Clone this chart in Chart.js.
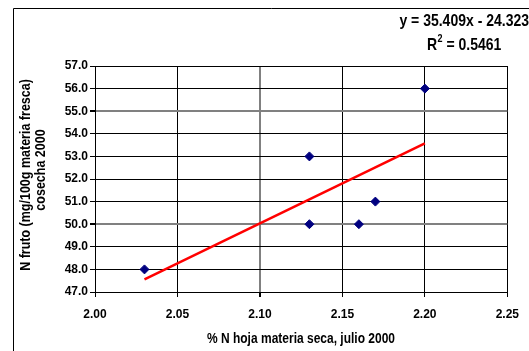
<!DOCTYPE html>
<html>
<head>
<meta charset="utf-8">
<script src="https://cdn.jsdelivr.net/npm/chart.js@4.4.0/dist/chart.umd.min.js"></script>
<style>
  body { margin: 0; background: #fff; }
  canvas { display: block; }
</style>
</head>
<body>
<canvas id="grafico" width="529" height="351"></canvas>
<script>
// datos
var nHoja = [2.03, 2.13, 2.13, 2.16, 2.17, 2.20]
var nFruto = [48.0, 53.0, 50.0, 50.0, 51.0, 56.0]
// linea de tendencia (extremos del rango de x)
var tendX = [2.03, 2.20]
var tendY = [47.56, 53.58]
var xTicks = [2.00, 2.05, 2.10, 2.15, 2.20, 2.25]
var yTicks = [47, 48, 49, 50, 51, 52, 53, 54, 55, 56, 57]

var ecuacion = 'y = 35.409x - 24.323'
var r2 = '0.5461'
var tituloY = ['N fruto (mg/100g materia fresca)', 'cosecha 2000']
var tituloX = '% N hoja materia seca, julio 2000'

var fuente = '"Liberation Sans", Arial, sans-serif'

var puntos = nHoja.map(function (x, i) { return { x: x, y: nFruto[i] } })
var linea = tendX.map(function (x, i) { return { x: x, y: tendY[i] } })

function gris(v, marcas) {
    return marcas.indexOf(v) >= 0
}

// texto estirado en vertical (como el original)
function texto(c, t, x, y, alin, tam, rot) {
    c.save()
    c.translate(x, y)
    if (rot) c.rotate(-Math.PI / 2)
    c.scale(1, 1.2)
    c.font = 'bold ' + tam + 'px ' + fuente
    c.textAlign = alin
    c.textBaseline = 'alphabetic'
    c.fillText(t, 0, 0)
    c.restore()
}

// textos extra y marco exterior
var textos = {
    id: 'textos',
    afterDraw: function (chart) {
        var c = chart.ctx
        c.save()
        // marco
        c.strokeStyle = '#000'
        c.lineWidth = 1
        c.beginPath()
        c.moveTo(13.5, 351)
        c.lineTo(13.5, 8.5)
        c.lineTo(529, 8.5)
        c.stroke()
        c.fillStyle = '#000'

        texto(c, ecuacion, 529, 26, 'right', 14)

        // R2
        c.font = 'bold 14px ' + fuente
        var x0 = 427
        texto(c, 'R', x0, 50, 'left', 14)
        x0 += c.measureText('R').width
        texto(c, '2', x0 + 0.5, 42, 'left', 9)
        c.font = 'bold 9px ' + fuente
        x0 += c.measureText('2').width + 0.5
        texto(c, ' = ' + r2, x0, 50, 'left', 14)

        // titulos de ejes
        texto(c, tituloY[0], 30, 175, 'center', 12.5, true)
        texto(c, tituloY[1], 44.5, 170, 'center', 12.5, true)
        texto(c, tituloX, 301, 343, 'center', 12)
        c.restore()
    }
}

var grafico = new Chart(document.getElementById('grafico').getContext('2d'), {
    data: {
        datasets: [{
            type: 'scatter',
            data: puntos,
            pointStyle: 'rectRot',
            pointRadius: 4.5,
            backgroundColor: '#000080',
            borderColor: '#000080',
            borderWidth: 1
        }, {
            type: 'line',
            data: linea,
            borderColor: '#ff0000',
            borderWidth: 2.5,
            pointRadius: 0,
            fill: false
        }]
    },
    options: {
        responsive: false,
        animation: false,
        layout: { padding: { top: 66, right: 19, left: 0, bottom: 0 } },
        plugins: { legend: { display: false }, tooltip: { enabled: false } },
        scales: {
            x: {
                type: 'linear',
                min: 2.0,
                max: 2.25,
                afterBuildTicks: function (s) { s.ticks = xTicks.map(function (v) { return { value: v } }) },
                afterFit: function (s) { s.height = 59 },
                ticks: {
                    color: '#000',
                    padding: 10,
                    font: { family: fuente, size: 12, weight: 'bold' },
                    callback: function (v) { return Number(v).toFixed(2) }
                },
                grid: {
                    color: function (ctx) { return gris(ctx.tick && ctx.tick.value, [2.1]) ? '#808080' : '#000' },
                    lineWidth: function (ctx) { return gris(ctx.tick && ctx.tick.value, [2.1]) ? 2 : 1 },
                    tickColor: '#000',
                    tickLength: 5
                },
                border: { color: '#000', width: 1 }
            },
            y: {
                min: 47,
                max: 57,
                afterBuildTicks: function (s) { s.ticks = yTicks.map(function (v) { return { value: v } }) },
                afterFit: function (s) { s.width = 95 },
                ticks: {
                    color: '#000',
                    padding: 2,
                    font: { family: fuente, size: 12, weight: 'bold' },
                    callback: function (v) { return Number(v).toFixed(1) }
                },
                grid: {
                    color: function (ctx) { return gris(ctx.tick && ctx.tick.value, [50, 55]) ? '#808080' : '#000' },
                    lineWidth: function (ctx) { return gris(ctx.tick && ctx.tick.value, [50, 55]) ? 2 : 1 },
                    tickColor: '#000',
                    tickLength: 5
                },
                border: { color: '#000', width: 1 }
            }
        }
    },
    plugins: [textos]
})
</script>
</body>
</html>
